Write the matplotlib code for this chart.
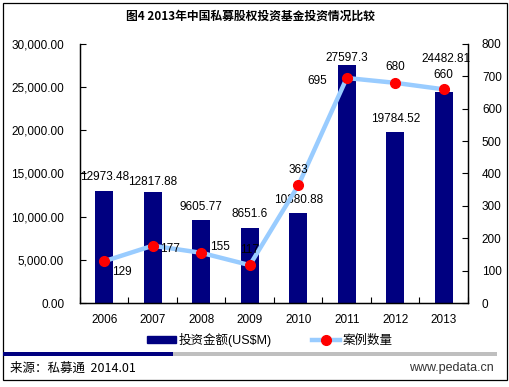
import matplotlib.pyplot as plt
from matplotlib.patches import Rectangle
from matplotlib.lines import Line2D
from matplotlib.ticker import FuncFormatter, FixedLocator

plt.rcParams['font.family'] = ['Liberation Sans', 'Noto Sans CJK SC', 'DejaVu Sans']

years = ['2006', '2007', '2008', '2009', '2010', '2011', '2012', '2013']
amount = [12973.48, 12817.88, 9605.77, 8651.6, 10380.88, 27597.3, 19784.52, 24482.81]
amount_labels = ['12973.48', '12817.88', '9605.77', '8651.6', '10380.88', '27597.3', '19784.52', '24482.81']
cases = [129, 177, 155, 117, 363, 695, 680, 660]

# label offsets in pixels (hand placed like the original)
bar_off = [(0, 14), (0, 10), (0, 13), (0, 14), (0, 13), (0, 7), (0, 13), (2, 33)]
line_off = [(18, -11), (17, -3), (19, 6), (0, 15), (0, 15), (-29, -3), (0, 16), (0, 14)]

W, H = 510, 387
fig = plt.figure(figsize=(W / 100, H / 100), dpi=100)
ax = fig.add_axes([80 / W, (H - 303) / H, (468 - 80) / W, (303 - 44) / H])
ax2 = ax.twinx()

x = list(range(len(years)))
bars = ax.bar(x, amount, width=0.38, color='#000080', zorder=2)
ln, = ax2.plot(x, cases, color='#99CCFF', lw=3.2, marker='o', ms=7,
               mfc='#FF0000', mec='#FF0000', zorder=3)

ax.set_xlim(-0.5, 7.5)
ax.set_ylim(0, 30000)
ax2.set_ylim(0, 800)
ax.set_yticks(range(0, 30001, 5000))
ax2.set_yticks(range(0, 801, 100))
ax.yaxis.set_major_formatter(FuncFormatter(lambda v, p: f'{v:,.2f}'))

ax.set_xticks(x)
ax.set_xticklabels(years)
ax.xaxis.set_minor_locator(FixedLocator([i + 0.5 for i in range(-1, 8)]))
ax.tick_params(axis='x', which='major', length=0, pad=8, labelsize=8.5)
ax.tick_params(axis='x', which='minor', direction='in', length=4, width=0.8)
ax.tick_params(axis='y', direction='in', length=4, width=0.8, pad=28, labelsize=8.5)
ax2.tick_params(axis='y', direction='in', length=4, width=0.8, pad=10, labelsize=8.5)
for lab in ax.get_yticklabels():
    lab.set_horizontalalignment('right')
    lab.set_x(-0.005)
ax.tick_params(axis='y', pad=10)

for a in (ax, ax2):
    a.spines['top'].set_visible(False)
    for s in ('left', 'bottom', 'right'):
        a.spines[s].set_linewidth(0.9)

for i, v in enumerate(amount):
    ax.annotate(amount_labels[i], (i, v), xytext=bar_off[i], textcoords='offset pixels',
                ha='center', va='center', fontsize=8.5)
for i, v in enumerate(cases):
    ax2.annotate(str(v), (i, v), xytext=line_off[i], textcoords='offset pixels',
                 ha='center', va='center', fontsize=8.5)

fig.text(250 / W, 1 - 16 / H, '图4 2013年中国私募股权投资基金投资情况比较',
         ha='center', va='center', fontsize=8.5, fontweight='bold',
         family=['Noto Sans CJK SC', 'DejaVu Sans'])

# legend
h_bar = Rectangle((0, 0), 1, 1, color='#000080')
h_line = Line2D([], [], color='#99CCFF', lw=3.2, marker='o', ms=7, mfc='#FF0000', mec='#FF0000')
leg = fig.legend([h_bar, h_line], ['投资金额(US$M)', '案例数量'], loc='center',
                 bbox_to_anchor=(270 / W, 1 - 340 / H), ncol=2, frameon=False,
                 handlelength=2.3, handleheight=0.45, handletextpad=0.2, columnspacing=3.2,
                 prop={'family': ['Liberation Sans', 'Noto Sans CJK SC'], 'size': 9})

# outer frame and divider
fig.add_artist(Rectangle((3 / W, 1 - 380 / H), 504 / W, 377 / H, transform=fig.transFigure,
                         fill=False, edgecolor='black', lw=0.9))
fig.add_artist(Rectangle((3 / W, 1 - 356 / H), 170 / W, 4 / H, transform=fig.transFigure,
                         color='#000080', lw=0))
fig.add_artist(Rectangle((173 / W, 1 - 356 / H), 324 / W, 4 / H, transform=fig.transFigure,
                         color='#BFBFBF', lw=0))

fig.text(10 / W, 1 - 368 / H, '来源：私募通  2014.01', ha='left', va='center', fontsize=9,
         family=['Noto Sans CJK SC', 'DejaVu Sans'])
fig.text(494 / W, 1 - 368 / H, 'www.pedata.cn', ha='right', va='center', fontsize=9,
         color='#333333')

fig.savefig('out.png', dpi=100)
